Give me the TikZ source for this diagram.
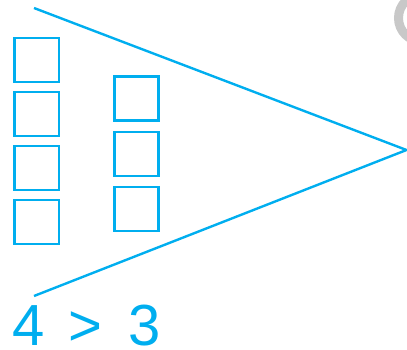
\documentclass[tikz,border=0pt]{standalone}
\usepackage{fontspec}
\setmainfont{Liberation Sans}
\definecolor{cyanb}{HTML}{00AEEF}
\definecolor{greyr}{HTML}{C8C8C8}
\begin{document}
\begin{tikzpicture}[x=1bp,y=-1bp,
  sq/.style={draw=cyanb,line width=2.6bp,minimum size=44bp,inner sep=0,outer sep=0},
  ray/.style={draw=cyanb,line width=2.4bp},
  num/.style={text=cyanb,font=\fontsize{58bp}{60bp}\selectfont,inner sep=0,anchor=base west}]
\useasboundingbox (0,0) rectangle (407,350);
\begin{scope}
\clip (0,0) rectangle (407,350);
\draw[greyr,line width=9bp] (422,18) circle (23.5);
\end{scope}
\node[sq] (a1) at (36.8,60) {};
\node[sq] (a2) at (36.8,114) {};
\node[sq] (a3) at (36.8,168) {};
\node[sq] (a4) at (36.8,222) {};
\node[sq] (b1) at (136.5,98.5) {};
\node[sq] (b2) at (136.5,154) {};
\node[sq] (b3) at (136.5,209) {};
\coordinate (top) at (34,8);
\coordinate (bot) at (34,296);
\coordinate (tip) at (406.5,150);
\draw[ray] (top) -- (tip) -- (bot);
\node[num] (n4) at (12,345) {4};
\node[num] (gt) at (68,345) {>};
\node[num] (n3) at (128,345) {3};
\end{tikzpicture}
\end{document}
